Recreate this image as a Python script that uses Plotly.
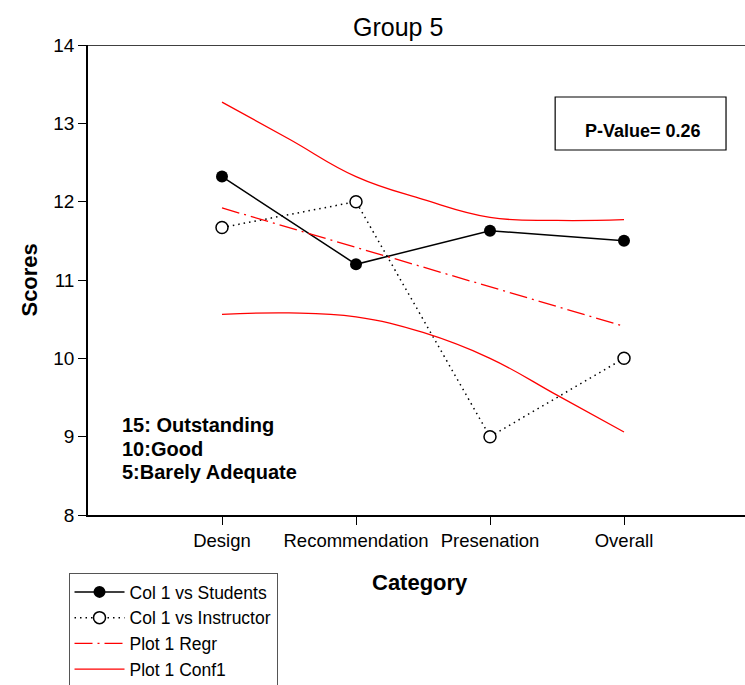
import plotly.graph_objects as go

# Category positions and labels
categories = ["Design", "Recommendation", "Presenation", "Overall"]
cat_pos = [1, 2, 3, 4]

# Mean scores
students = [12.32, 11.20, 11.63, 11.50]
instructor = [11.67, 12.00, 9.00, 10.00]

# Regression line (endpoints)
regr_x = [1, 4]
regr_y = [11.92, 10.41]

# Confidence band
conf_x = [1, 1.5, 2, 2.5, 3, 3.5, 4]
conf_upper = [13.27, 12.80, 12.32, 12.03, 11.80, 11.76, 11.77]
conf_lower = [10.56, 10.58, 10.53, 10.33, 10.00, 9.53, 9.06]

y_ticks = [8, 9, 10, 11, 12, 13, 14]

FONT = "Liberation Sans, Arial, sans-serif"
# The frame runs a little past the right edge of the page; the overflow is hidden.
W, H = 758, 685
L, T, B = 87.5, 45, 170
x_max = 5

fig = go.Figure()

fig.add_trace(go.Scatter(
    x=cat_pos, y=students, mode="lines+markers", name="Col 1 vs Students",
    line=dict(color="black", width=1.5),
    marker=dict(symbol="circle", size=12, color="black"),
))
fig.add_trace(go.Scatter(
    x=cat_pos, y=instructor, mode="lines+markers", name="Col 1 vs Instructor",
    line=dict(color="black", width=1.5, dash="1.5px,4px"),
    marker=dict(symbol="circle", size=12, color="white",
                line=dict(color="black", width=1.5)),
))
fig.add_trace(go.Scatter(
    x=regr_x, y=regr_y, mode="lines", name="Plot 1 Regr",
    line=dict(color="red", width=1.3, dash="18px,5px,2px,5px"),
))
fig.add_trace(go.Scatter(
    x=conf_x, y=conf_upper, mode="lines", name="Plot 1 Conf1",
    line=dict(color="red", width=1.3, shape="spline", smoothing=1.2),
))
fig.add_trace(go.Scatter(
    x=conf_x, y=conf_lower, mode="lines", showlegend=False,
    line=dict(color="red", width=1.3, shape="spline", smoothing=1.2),
))

plot_w = W - L
plot_h = H - T - B


def px(xp):
    return (xp - L) / plot_w


def py(yp):
    return (H - B - yp) / plot_h


annotations = [
    dict(text="Group 5", xref="paper", yref="paper",
         x=px(398), y=py(27),
         xanchor="center", yanchor="middle", showarrow=False,
         font=dict(family=FONT, size=25, color="black")),
    dict(text="<b>Scores</b>", xref="paper", yref="paper",
         x=px(28), y=py(280), textangle=-90,
         xanchor="center", yanchor="middle", showarrow=False,
         font=dict(family=FONT, size=22, color="black")),
    dict(text="<b>Category</b>", xref="paper", yref="paper",
         x=px(420), y=py(582),
         xanchor="center", yanchor="middle", showarrow=False,
         font=dict(family=FONT, size=22, color="black")),
    dict(text="<b>P-Value= 0.26</b>", xref="paper", yref="paper",
         x=px(643), y=py(131),
         xanchor="center", yanchor="middle", showarrow=False,
         font=dict(family=FONT, size=18, color="black")),
]
for label, ypx in [("15: Outstanding", 425), ("10:Good", 449), ("5:Barely Adequate", 472)]:
    annotations.append(dict(
        text=f"<b>{label}</b>", xref="paper", yref="paper",
        x=px(120), y=py(ypx),
        xanchor="left", yanchor="middle", showarrow=False,
        font=dict(family=FONT, size=20, color="black")))

shapes = [
    # top frame line
    dict(type="line", xref="paper", yref="y", x0=0, x1=1, y0=14, y1=14,
         line=dict(color="black", width=1.5)),
    # P-value box
    dict(type="rect", xref="paper", yref="paper",
         x0=px(555), x1=px(726), y0=py(150), y1=py(97),
         line=dict(color="black", width=1.2), fillcolor="rgba(0,0,0,0)"),
]

fig.update_layout(
    width=W, height=H,
    margin=dict(l=L, r=0, t=T, b=B, pad=0, autoexpand=False),
    paper_bgcolor="white", plot_bgcolor="white",
    font=dict(family=FONT, color="black"),
    showlegend=True,
    legend=dict(
        x=px(68), y=py(573),
        xanchor="left", yanchor="top",
        bordercolor="#555555", borderwidth=1, bgcolor="white",
        font=dict(family=FONT, size=17.5, color="black"),
        itemwidth=50, tracegroupgap=0,
    ),
    annotations=annotations,
    shapes=shapes,
    xaxis=dict(
        range=[0, x_max], tickmode="array", tickvals=cat_pos, ticktext=categories,
        showline=True, linecolor="black", linewidth=1.5, mirror=False,
        ticks="outside", ticklen=8, tickwidth=1.2, tickcolor="black",
        showgrid=False, zeroline=False,
        tickfont=dict(family=FONT, size=18.5, color="black"),
    ),
    yaxis=dict(
        range=[8, 14], tickmode="array", tickvals=y_ticks,
        showline=True, linecolor="black", linewidth=1.5, mirror=False,
        ticks="outside", ticklen=8, tickwidth=1.2, tickcolor="black",
        showgrid=False, zeroline=False,
        tickfont=dict(family=FONT, size=19, color="black"),
    ),
)

fig.write_html(
    "out.html",
    post_script="document.documentElement.style.overflow='hidden';"
                "document.body.style.overflow='hidden';",
)
